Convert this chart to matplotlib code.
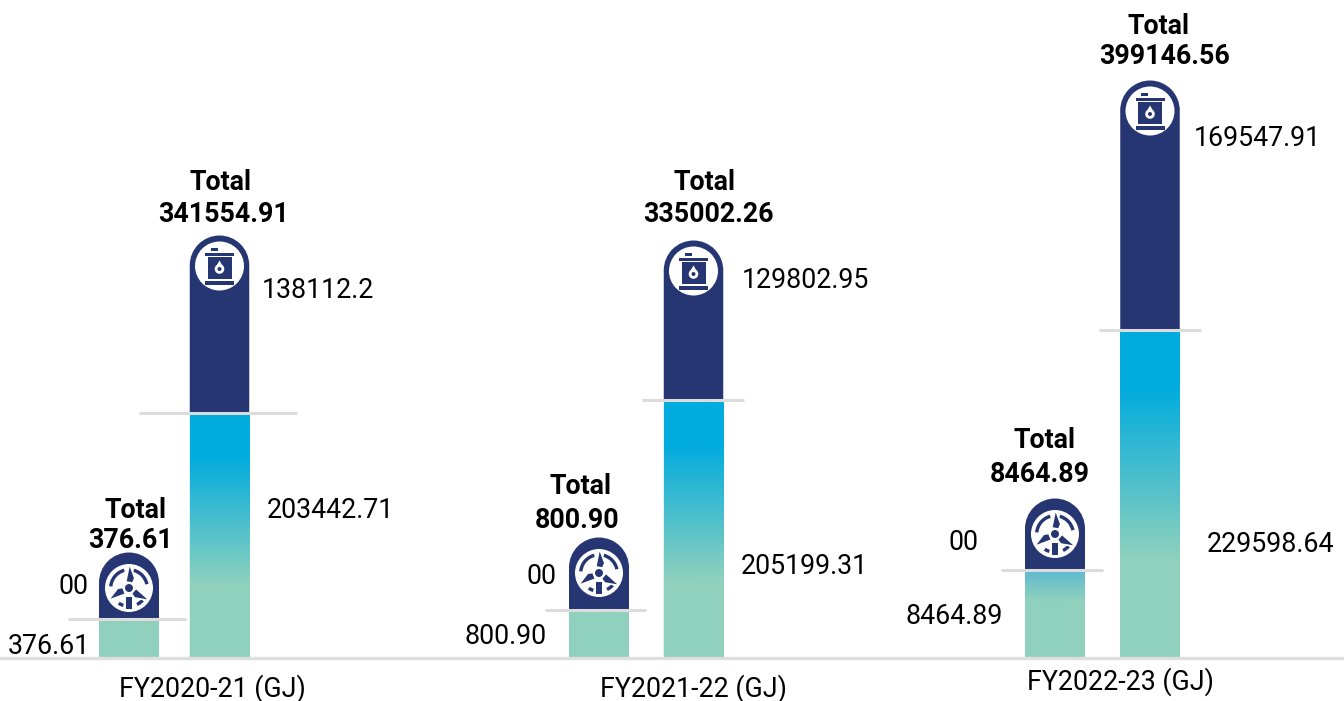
import matplotlib.pyplot as plt
import numpy as np
from matplotlib.colors import LinearSegmentedColormap
from matplotlib.patches import Circle, Polygon, Rectangle, Wedge

# the bars in the source are not to scale, so the heights are read off the picture
years = ['FY2020-21 (GJ)', 'FY2021-22 (GJ)', 'FY2022-23 (GJ)']
small_total = ['376.61', '800.90', '8464.89']
big_total = ['341554.91', '335002.26', '399146.56']
small_lower_lab = ['376.61', '800.90', '8464.89']
small_upper_lab = ['00', '00', '00']
big_lower_lab = ['203442.71', '205199.31', '229598.64']
big_upper_lab = ['138112.2', '129802.95', '169547.91']
small_lower = [39, 48, 88]
small_upper = [67, 73, 72]
big_lower = [245, 258, 328]
big_upper = [178, 160, 250]

NAVY = '#263673'
CYAN = '#00abde'
TEAL = '#8fd1bd'
GREY = '#dcdcdc'
BLACK = '#000000'
BASE = 43  # baseline, pixels from the bottom

plt.rcParams['font.family'] = ['Roboto', 'DejaVu Sans']

small_x = [129, 599, 1055]
big_x = [219.5, 693.5, 1150]
small_line = [(68, 186), (545, 646), (1001, 1103)]
big_line = [(139, 297), (642, 744), (1099, 1201)]
year_pos = [(212.5, 687), (693.5, 687), (1120.5, 680)]
big_head_pos = [(220, 181, 223.5, 213), (704, 181, 708, 213), (1158, 24, 1164.5, 54)]
small_head_pos = [(135.5, 508, 130.5, 538), (580.5, 484, 577.5, 519), (1044, 438, 1039.5, 473)]
big_up_pos = [(262, 288), (742, 278), (1194, 137)]
big_low_pos = [(267, 508), (741, 564), (1207, 542)]
small_up_pos = [(89, 585), (556, 574), (978, 541)]
small_low_pos = [(90, 645), (547, 634), (1003, 614)]

fig = plt.figure(figsize=(13.44, 7.01), dpi=100)
ax = fig.add_axes([0, 0, 1, 1])


def gradient_bar(x, width, height, stops):
    bar = ax.bar(x, height, width, bottom=BASE, color=TEAL, zorder=2, snap=False)[0]
    cmap = LinearSegmentedColormap.from_list('g', stops)
    im = ax.imshow(np.linspace(0, 1, 256)[:, None], cmap=cmap, aspect='auto', zorder=2.5,
                   extent=(x - width / 2, x + width / 2, BASE, BASE + height), vmin=0, vmax=1)
    im.set_clip_path(bar)


def cap_bar(x, width, bottom, height):
    # navy bar with a round top
    r = width / 2
    ax.bar(x, height - r, width, bottom=bottom, color=NAVY, zorder=3, snap=False)
    ax.add_patch(Wedge((x, bottom + height - r - 0.5), r, 0, 180, color=NAVY, lw=0, zorder=3))


def drum(cx, cy):
    ax.add_patch(Circle((cx, cy), 24.5, color='white', lw=0, zorder=4))
    boxes = [(-9, 15.5, 7, 2.6), (-14.5, 10.5, 29, 3), (-12, -12.5, 24, 21.5), (-14.5, -18.5, 29, 4)]
    for bx, by, bw, bh in boxes:
        ax.add_patch(Rectangle((cx + bx, cy + by), bw, bh, color=NAVY, lw=0, zorder=5))
    ax.add_patch(Circle((cx, cy - 3), 4.8, color='white', lw=0, zorder=6))
    ax.add_patch(Polygon([(cx - 3.8, cy - 1), (cx, cy + 5.5), (cx + 3.8, cy - 1)], color='white', lw=0, zorder=6))
    ax.add_patch(Circle((cx, cy - 3), 2, color=NAVY, lw=0, zorder=7))


def turbine(cx, cy):
    ax.add_patch(Circle((cx, cy), 24, color='white', lw=0, zorder=4))
    for t1, t2 in [(105, 175), (12, 75), (236, 252), (296, 318)]:
        ax.add_patch(Wedge((cx, cy), 20, t1, t2, width=3.4, color=NAVY, lw=0, zorder=5))
    for angle in [88, 210, 328]:
        a = np.radians(angle)
        u = np.array([np.cos(a), np.sin(a)])
        v = np.array([-u[1], u[0]])
        shape = [(5, -3.5), (10, -5.5), (22, -0.6), (22, 0.8), (6, 3.5)]
        pts = [(cx + p * u[0] + q * v[0], cy + p * u[1] + q * v[1]) for p, q in shape]
        # white rim keeps the blade apart from the ring
        ax.add_patch(Polygon(pts, facecolor=NAVY, edgecolor='white', lw=1.2, zorder=5.5))
    ax.add_patch(Rectangle((cx - 3.3, cy - 21), 6.6, 12, color=NAVY, lw=0, zorder=5))
    ax.add_patch(Circle((cx, cy), 5.6, color='white', lw=0, zorder=6))
    ax.add_patch(Circle((cx, cy), 4, color=NAVY, lw=0, zorder=7))


def put(x, y, s, ha='center', weight='normal', size=19.3):
    ax.text(x, 701 - y - 2, s, ha=ha, va='center', fontsize=size, fontweight=weight, color=BLACK, zorder=8)


for i in range(3):
    # low bar, only FY2022-23 has some blue at the top
    if i == 2:
        gradient_bar(small_x[i], 60, small_lower[i], [(0, '#5fb9d0'), (0.35, TEAL), (1, TEAL)])
    else:
        gradient_bar(small_x[i], 60, small_lower[i], [(0, TEAL), (1, TEAL)])
    cap_bar(small_x[i], 60, BASE + small_lower[i], small_upper[i])
    turbine(small_x[i], BASE + small_lower[i] + small_upper[i] - 36)

    gradient_bar(big_x[i], 59.5, big_lower[i], [(0, CYAN), (0.17, CYAN), (0.7, TEAL), (1, TEAL)])
    cap_bar(big_x[i], 59.5, BASE + big_lower[i], big_upper[i])
    drum(big_x[i], BASE + big_lower[i] + big_upper[i] - 31)

    ax.plot(small_line[i], [BASE + small_lower[i]] * 2, color=GREY, lw=2.2, solid_capstyle='butt', zorder=7)
    ax.plot(big_line[i], [BASE + big_lower[i]] * 2, color=GREY, lw=2.2, solid_capstyle='butt', zorder=7)

    put(year_pos[i][0], year_pos[i][1], years[i])
    tx, ty, vx, vy = big_head_pos[i]
    put(tx, ty, 'Total', weight='bold')
    put(vx, vy, big_total[i], weight='bold')
    tx, ty, vx, vy = small_head_pos[i]
    put(tx, ty, 'Total', weight='bold')
    put(vx, vy, small_total[i], weight='bold')
    put(big_up_pos[i][0], big_up_pos[i][1], big_upper_lab[i], ha='left')
    put(big_low_pos[i][0], big_low_pos[i][1], big_lower_lab[i], ha='left')
    put(small_up_pos[i][0], small_up_pos[i][1], small_upper_lab[i], ha='right')
    put(small_low_pos[i][0], small_low_pos[i][1], small_lower_lab[i], ha='right')

ax.axhline(BASE, color='#dedede', lw=2.4, zorder=3)
ax.set_xlim(0, 1344)
ax.set_ylim(0, 701)
ax.axis('off')
fig.savefig('out.png', dpi=100)
plt.close()
